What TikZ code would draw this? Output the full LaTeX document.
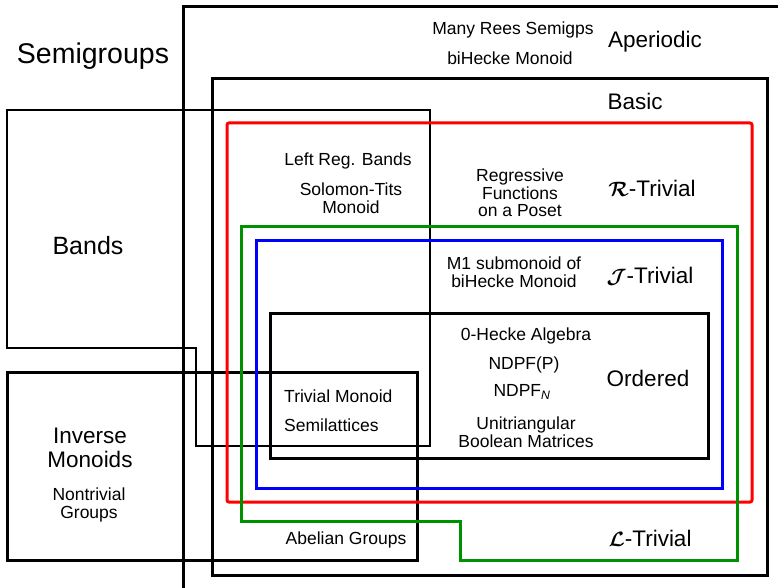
\documentclass[tikz,border=0pt]{standalone}
\usepackage{amsmath, amssymb}
\usepackage{fontspec}
\setmainfont{Liberation Sans}
\usepackage{tikz}

\definecolor{ltgreen}{RGB}{0,145,0}

\tikzset{
  smalltext/.style={font=\fontsize{17.5}{17.5}\selectfont, align=center, inner sep=0pt},
  classname/.style={font=\fontsize{22.5}{24}\selectfont, align=center, inner sep=0pt},
  bigname/.style={font=\fontsize{28.5}{30}\selectfont, inner sep=0pt},
  classbox/.style={line width=3pt},
  thinbox/.style={line width=1.3pt},
}

\begin{document}
\begin{tikzpicture}[x=1pt, y=-1pt]

\useasboundingbox (0,0) rectangle (778,588);

% =========================
% Aperiodic (open to the right and below)
% =========================
\draw[classbox] (778,7) -- (183,7) -- (183,588);
\node[bigname] (semigroups) at (93,56) {Semigroups};
\node[smalltext] (rees) at (513,30) {Many Rees Semigps};
\node[smalltext] (bihecke) at (510,58) {biHecke Monoid};
\node[classname] (aperiodic) at (655,42) {Aperiodic};

% =========================
% Bands and Inverse Monoids
% =========================
\draw[thinbox] (7,110) -- (430,110) -- (430,446) -- (196,446)
    -- (196,348) -- (7,348) -- cycle;
\node[classname, font=\fontsize{25}{26}\selectfont] (bands) at (88,246) {Bands};

\draw[classbox] (7,372) rectangle (417,560);
\node[classname] (inverse) at (90,448) {Inverse\\Monoids};
\node[smalltext] (groups) at (89,505) {Nontrivial\\Groups};

% =========================
% Basic
% =========================
\draw[classbox] (212,79) rectangle (767,575);
\node[classname] (basic) at (635,101) {Basic};

% R-Trivial
\draw[classbox, red, rounded corners=2pt] (227,123) rectangle (752,502);
\node[smalltext] (leftreg) at (348,161) {Left Reg. Bands};
\node[smalltext, text depth=0pt] (solomon) at (351,198)
    {\fontsize{17.5}{19}\selectfont Solomon-Tits\\Monoid};
\node[smalltext] (regressive) at (520,193) {Regressive\\Functions\\on a Poset};
\node[classname] (rtrivial) at (652,188) {$\boldsymbol{\mathcal{R}}$-Trivial};

% L-Trivial
\draw[classbox, ltgreen] (241,226) -- (737,226) -- (737,560) -- (460,560)
    -- (460,521) -- (241,521) -- cycle;
\node[classname] (ltrivial) at (650,538) {$\boldsymbol{\mathcal{L}}$-Trivial};
\node[smalltext] (abelian) at (346,540) {Abelian Groups};

% J-Trivial
\draw[classbox, blue] (256,240) rectangle (722,488);
\node[smalltext] (mone) at (514,272)
    {\fontsize{17.5}{19}\selectfont M1 submonoid of\\biHecke Monoid};
\node[classname] (jtrivial) at (650,276) {$\boldsymbol{\mathcal{J}}$-Trivial};

% Ordered
\draw[classbox] (270,313) rectangle (708,458);
\node[classname] (ordered) at (648,378) {Ordered};
\node[smalltext] (zerohecke) at (526,336) {0-Hecke Algebra};
\node[smalltext] (ndpfp) at (524,365) {NDPF(P)};
\node[smalltext] (ndpfn) at (522,392) {NDPF\textsubscript{\itshape N}};
\node[smalltext] (unitri) at (526,432) {Unitriangular\\Boolean Matrices};
\node[smalltext, anchor=west] (trivial) at (284,396) {Trivial Monoid};
\node[smalltext, anchor=west] (semilat) at (284,425) {Semilattices};

\end{tikzpicture}
\end{document}
